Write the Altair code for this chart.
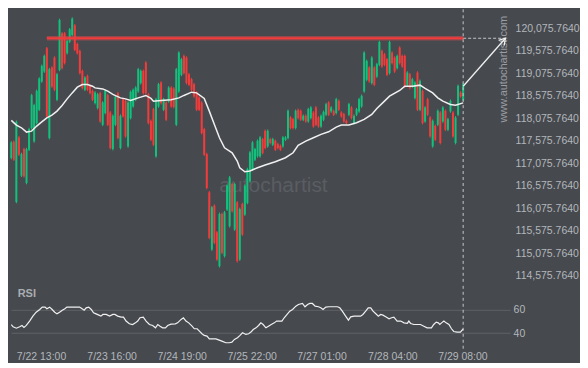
import altair as alt
import pandas as pd

# ---------------- data (hourly BTC candles) ----------------
opens = [
    117192, 117554, 116214, 117650, 116799, 117391, 116636, 117377, 117858, 117562,
    117969, 118266, 118895, 119117, 119635, 117636, 119206, 119428, 118488, 119154,
    119969, 119969, 119525, 119784, 119932, 120146, 119732, 119576, 119132, 118710,
    119020, 118798, 118687, 118414, 118303, 118635, 117932, 118192, 118591, 118206,
    117392, 117932, 118635, 117414, 118502, 118465, 117451, 118080, 118340, 118488,
    118673, 118858, 119132, 119317, 118613, 118020, 118280, 117229, 118340, 118872,
    118266, 118428, 118451, 118761, 118739, 117932, 118673, 119043, 119465, 119428,
    119057, 118946, 118835, 118650, 118539, 118428, 117835, 117280, 116428, 115155,
    116132, 115539, 114784, 115947, 115007, 116044, 115673, 116613, 115599, 116206,
    114933, 116169, 115933, 116192, 116673, 116932, 117155, 117229, 117229, 117613,
    117798, 117451, 117613, 117488, 117576, 117502, 117465, 117451, 117599, 117636,
    118095, 118058, 117858, 118265, 118243, 118043, 118132, 118006, 118080, 118206,
    118317, 118095, 117895, 118043, 118155, 118428, 118229, 118243, 118192, 118465,
    118206, 118169, 118020, 118155, 118317, 117969, 118155, 118229, 118340, 118673,
    118932, 119206, 118858, 119206, 119006, 119266, 119576, 119502, 119391, 119080,
    119539, 119428, 119192, 119650, 119465, 119465, 118821, 119057, 118784, 118525,
    119094, 118266, 118687, 118006, 118502, 118095, 117451, 117909, 117932, 118206,
    118006, 118243, 117821, 118229, 118206, 117525, 118155, 118650, 118488,
]
highs = [
    117569, 117584, 118028, 117680, 117310, 117421, 117421, 117865, 118621, 118399,
    118717, 118991, 119273, 119495, 119665, 119199, 119236, 119458, 119087, 120295,
    119999, 119999, 119828, 120087, 120324, 120176, 119762, 119606, 119162, 119013,
    119050, 118828, 118717, 118680, 118643, 118665, 118458, 118717, 118621, 118236,
    118162, 118591, 118665, 118162, 118532, 118495, 118458, 118695, 118739, 118791,
    119199, 119162, 119162, 119347, 118643, 118050, 118310, 118532, 118865, 118902,
    118532, 118458, 118791, 118791, 118769, 119199, 119569, 119421, 119495, 119458,
    119087, 118976, 118865, 118680, 118569, 118458, 117865, 117310, 116458, 116125,
    116162, 115569, 115977, 115977, 116014, 116606, 116791, 116643, 116643, 116236,
    116088, 116199, 116606, 116976, 117347, 117569, 117421, 117606, 117680, 117643,
    117828, 117828, 117643, 117643, 117606, 117532, 117495, 117680, 117680, 118273,
    118125, 118088, 118273, 118295, 118273, 118162, 118162, 118310, 118347, 118236,
    118347, 118125, 118162, 118250, 118421, 118458, 118347, 118273, 118532, 118495,
    118236, 118199, 118050, 118421, 118347, 118162, 118310, 118532, 118606, 119569,
    119384, 119236, 119458, 119236, 119310, 119806, 119606, 119532, 119421, 119806,
    119569, 119458, 119495, 119680, 119495, 119495, 119124, 119087, 118976, 118902,
    119124, 118939, 118717, 118347, 118532, 118125, 118050, 117939, 118273, 118236,
    118347, 118273, 118088, 118495, 118236, 118125, 118828, 118680, 118865,
]
lows = [
    117162, 117125, 116184, 117236, 116769, 116754, 116606, 117347, 117828, 117532,
    117939, 118236, 118865, 119087, 118088, 117606, 118754, 118680, 118458, 119124,
    119162, 119273, 119495, 119754, 119902, 119569, 119495, 119050, 118717, 118680,
    118680, 118606, 118458, 118384, 118273, 117976, 117902, 118162, 117902, 117384,
    117362, 117902, 117606, 117384, 118088, 117643, 117421, 118050, 118310, 118458,
    118643, 118828, 118606, 118606, 117939, 117569, 117458, 117199, 118310, 118384,
    118236, 118013, 118421, 118310, 118295, 117902, 118643, 119013, 119050, 118828,
    118791, 118680, 118532, 118236, 118236, 117717, 117236, 116495, 115384, 115125,
    115273, 114903, 114754, 115051, 114977, 116014, 115643, 115977, 115569, 114865,
    114903, 115458, 115903, 116162, 116643, 116902, 117125, 117199, 117199, 117273,
    117384, 117421, 117495, 117458, 117347, 117384, 117347, 117421, 117569, 117606,
    117828, 117828, 117828, 118050, 118013, 118013, 117976, 117976, 118050, 117865,
    117902, 117865, 117865, 118013, 118125, 118125, 118199, 118125, 118162, 118236,
    118088, 117976, 117939, 118125, 118050, 117939, 118125, 118199, 118310, 118643,
    118902, 118865, 118828, 118791, 118976, 119236, 119199, 119236, 119013, 119050,
    119273, 119087, 119162, 119273, 119199, 118754, 118791, 118717, 118754, 118495,
    118236, 118236, 117939, 117976, 118125, 117643, 117421, 117569, 117902, 117495,
    117976, 117791, 117791, 118199, 117643, 117495, 118125, 118532, 118458,
]
closes = [
    117539, 117155, 117998, 117266, 117280, 116784, 117391, 117835, 118591, 118369,
    118687, 118961, 119243, 119465, 118118, 119169, 118784, 118710, 119057, 120265,
    119192, 119303, 119798, 120057, 120294, 119599, 119525, 119080, 118747, 118983,
    118710, 118636, 118488, 118650, 118613, 118006, 118428, 118687, 117932, 117414,
    118132, 118561, 117636, 118132, 118118, 117673, 118428, 118665, 118709, 118761,
    119169, 119132, 118636, 118636, 117969, 117599, 117488, 118502, 118835, 118414,
    118502, 118043, 118761, 118340, 118325, 119169, 119539, 119391, 119080, 118858,
    118821, 118710, 118562, 118266, 118266, 117747, 117266, 116525, 115414, 116095,
    115303, 114933, 115947, 115081, 115984, 116576, 116761, 116007, 116613, 114895,
    116058, 115488, 116576, 116946, 117317, 117539, 117391, 117576, 117650, 117303,
    117414, 117798, 117525, 117613, 117377, 117414, 117377, 117650, 117650, 118243,
    117858, 117858, 118243, 118080, 118043, 118132, 118006, 118280, 118317, 117895,
    117932, 117895, 118132, 118220, 118391, 118155, 118317, 118155, 118502, 118266,
    118118, 118006, 117969, 118391, 118080, 118132, 118280, 118502, 118576, 119539,
    119354, 118895, 119428, 118821, 119280, 119776, 119229, 119266, 119043, 119776,
    119303, 119117, 119465, 119303, 119229, 118784, 119094, 118747, 118946, 118872,
    118266, 118909, 117969, 118317, 118155, 117673, 118020, 117599, 118243, 117525,
    118317, 117821, 118058, 118465, 117673, 118095, 118798, 118562, 118835,
]

# moving average (white line), read at candle positions
ma_idx = [0, 2, 4, 6, 8, 10, 12, 14, 16, 18, 20, 22, 24, 26, 28, 30, 32, 33, 36, 38,
          40, 43, 45, 47, 50, 53, 55, 56, 59, 63, 66, 68, 71, 73, 76, 78, 80, 82, 84, 87,
          89, 90, 92, 94, 97, 100, 104, 108, 111, 113, 116, 119, 122, 125, 128, 130, 133, 136, 139, 142,
          144, 147, 149, 153, 155, 158, 161, 163, 166, 168, 170, 173, 175, 178]
ma_val = [118029, 117925, 117865, 117769, 117791, 117903, 117998, 118087, 118147, 118236,
          118362, 118509, 118642, 118769, 118829, 118829, 118791, 118753, 118731, 118680,
          118607, 118531, 118509, 118474, 118531, 118585, 118518, 118458, 118474, 118487,
          118531, 118585, 118658, 118642, 118518, 118236, 117940, 117642, 117420, 117309,
          117125, 116976, 116887, 116903, 116976, 117036, 117109, 117198, 117309, 117474,
          117569, 117642, 117718, 117776, 117880, 117925, 117925, 117976, 118051, 118162,
          118296, 118458, 118569, 118696, 118791, 118791, 118814, 118740, 118642, 118531,
          118458, 118385, 118369, 118420]

# RSI
rsi_idx = [0, 0.7, 2.0, 3.3, 4.2, 5.0, 5.9, 7.2, 8.5, 9.8,
           11.2, 12.2, 13.3, 14.0, 15.1, 16.1, 17.1, 18.0, 19.0, 20.1,
           21.1, 21.9, 22.9, 24.9, 26.9, 27.9, 28.7, 29.5, 30.5, 31.5,
           32.4, 33.4, 34.5, 35.3, 36.1, 37.4, 38.7, 40.0, 40.8, 41.9,
           43.3, 44.2, 45.2, 46.5, 47.8, 48.9, 49.8, 50.7, 52.0, 53.1,
           54.4, 55.7, 56.8, 57.7, 58.6, 59.6, 60.7, 61.6, 62.9, 64.6,
           65.5, 66.9, 67.8, 68.8, 69.9, 71.2, 72.1, 73.2, 74.1, 75.1,
           76.0, 77.1, 78.0, 79.3, 80.6, 81.9, 83.2, 84.5, 85.9, 86.9,
           87.9, 89.1, 90.1, 91.1, 92.4, 93.5, 94.4, 95.3, 96.4, 97.4,
           98.3, 99.2, 100.3, 101.3, 102.4, 103.6, 104.5, 105.5, 106.6, 107.5,
           108.8, 109.7, 110.8, 112.1, 113.1, 114.7, 115.7, 116.7, 117.6, 118.6,
           119.7, 121.0, 121.9, 122.8, 123.9, 125.2, 127.2, 128.5, 129.4, 130.4,
           131.7, 132.8, 133.7, 135.0, 136.3, 137.6, 138.5, 139.6, 140.6, 141.6,
           142.5, 143.5, 144.6, 145.5, 146.4, 147.5, 148.8, 149.8, 150.7, 152.0,
           153.4, 154.7, 156.0, 156.6, 157.3, 158.6, 159.9, 161.2, 162.5, 163.8,
           165.5, 166.4, 167.4, 168.2, 168.8, 169.5, 170.4, 171.3, 172.4, 173.4,
           174.3, 175.6, 176.9, 178.0]
rsi_val = [47.3, 45.4, 44.2, 45.4, 46.5, 44.8, 46.5, 50.2, 54.4, 57.7,
           60.0, 62.0, 62.0, 60.6, 62.0, 60.0, 57.7, 56.3, 57.7, 59.4,
           60.6, 62.0, 62.0, 62.0, 62.0, 60.6, 59.4, 61.4, 62.0, 60.0,
           57.2, 56.3, 55.2, 54.4, 55.8, 55.8, 54.4, 55.8, 55.8, 54.4,
           53.5, 53.5, 50.2, 47.9, 47.3, 48.7, 50.2, 53.0, 53.5, 50.2,
           47.3, 46.5, 44.5, 47.3, 45.9, 44.5, 44.5, 46.5, 47.6, 47.9,
           48.7, 51.6, 53.0, 50.2, 48.7, 45.9, 43.7, 43.7, 41.7, 39.5,
           38.1, 37.5, 35.2, 35.2, 35.2, 34.1, 33.0, 31.9, 31.9, 32.4,
           34.7, 36.1, 38.1, 40.3, 38.9, 39.5, 40.9, 43.1, 44.5, 46.5,
           48.7, 47.3, 44.5, 45.9, 47.3, 48.7, 50.2, 50.2, 50.2, 53.0,
           56.3, 58.6, 60.0, 62.8, 64.2, 65.1, 62.3, 64.2, 65.1, 65.1,
           62.8, 62.3, 61.4, 60.0, 62.0, 62.3, 62.3, 62.3, 61.4, 58.6,
           54.4, 51.0, 53.8, 54.4, 54.4, 54.4, 55.8, 58.6, 61.4, 61.4,
           58.6, 56.6, 54.4, 55.8, 55.2, 53.8, 52.1, 53.0, 53.5, 50.2,
           50.2, 48.7, 48.2, 50.2, 48.2, 47.3, 47.3, 47.3, 45.9, 44.5,
           44.5, 47.3, 49.3, 48.7, 47.3, 48.7, 50.2, 48.7, 47.3, 43.7,
           41.4, 40.9, 40.9, 43.5]

time_tick_idx = [11.7, 39.5, 67.1, 94.7, 122.2, 150.1, 177.7]
time_tick_labels = ["7/22 13:00", "7/23 16:00", "7/24 19:00", "7/25 22:00",
                    "7/27 01:00", "7/28 04:00", "7/29 08:00"]
price_ticks = [114575.764, 115075.764, 115575.764, 116075.764, 116575.764, 117075.764,
               117575.764, 118075.764, 118575.764, 119075.764, 119575.764, 120075.764]
rsi_ticks = [40, 60]

resistance_level = [119858]
resistance_start_idx = [14]
forecast_idx = [178, 194.65]
forecast_price = [118790, 119858]

# ---------------- styling ----------------
BG = "#46494e"
GREEN = "#12c27c"
RED = "#f23c3c"
LABEL = "#b3b7bc"
WHITE = "#f0f0f0"
DASH = "#c4c6c9"
FONT = "Liberation Sans"

candles = pd.DataFrame({"idx": list(range(len(opens))), "open": opens,
                        "high": highs, "low": lows, "close": closes})
ma = pd.DataFrame({"idx": ma_idx, "value": ma_val})
rsi = pd.DataFrame({"idx": rsi_idx, "value": rsi_val})

XS = alt.Scale(domain=[-0.12, 196.5], nice=False, zero=False)
PS = alt.Scale(domain=[114391.4, 120502.4], nice=False, zero=False)
RS = alt.Scale(domain=[26.0, 80.0], nice=False, zero=False)

price_axis = alt.Axis(orient="right", values=price_ticks, format=",.4f", domain=False,
                      ticks=False, grid=False, labelColor=LABEL, labelFont=FONT,
                      labelFontSize=10.5, labelPadding=5)

label_expr = "".join(f"abs(datum.value - {v}) < 0.5 ? '{t}' : "
                     for v, t in zip(time_tick_idx, time_tick_labels)) + "''"
time_axis = alt.Axis(values=time_tick_idx, labelExpr=label_expr, domain=False, ticks=False,
                     grid=False, labelColor=LABEL, labelFont=FONT, labelFontSize=10.5,
                     labelPadding=2)
rsi_axis = alt.Axis(orient="right", values=rsi_ticks, grid=True, gridColor="#5f6267",
                    gridWidth=1, domain=False, ticks=False, labelColor=LABEL,
                    labelFont=FONT, labelFontSize=10.5, labelPadding=3)


def X(field="idx"):
    return alt.X(f"{field}:Q", scale=XS, axis=None, title=None)


def P(field):
    return alt.Y(f"{field}:Q", scale=PS, axis=price_axis, title=None)


def TX(field="idx"):
    return alt.X(f"{field}:Q", scale=XS, axis=time_axis, title=None)


def R(field):
    return alt.Y(f"{field}:Q", scale=RS, axis=rsi_axis, title=None)


candle_color = alt.when("datum.close >= datum.open").then(alt.value(GREEN)).otherwise(alt.value(RED))

# ---------------- price panel ----------------
wm_df = pd.DataFrame({"idx": [103.3], "price": [116569], "label": ["autochartist"]})
wm = alt.Chart(wm_df).mark_text(font=FONT, fontSize=21, color="#5a5d62").encode(
    x=X(), y=P("price"), text="label:N")

url_df = pd.DataFrame({"idx": [193.9], "price": [119169], "label": ["www.autochartist.com"]})
url = alt.Chart(url_df).mark_text(font=FONT, fontSize=11, angle=270, color="#9a9da2").encode(
    x=X(), y=P("price"), text="label:N")

wicks = alt.Chart(candles).mark_rule(strokeWidth=1).encode(
    x=X(), y=P("low"), y2=alt.Y2("high"), color=candle_color)

bodies = alt.Chart(candles).mark_rule(strokeWidth=2).encode(
    x=X(), y=P("open"), y2=alt.Y2("close"), color=candle_color)

ma_line = alt.Chart(ma).mark_line(color=WHITE, strokeWidth=1.5).encode(x=X(), y=P("value"))

res_df = pd.DataFrame({"start": resistance_start_idx, "end": [forecast_idx[0]],
                       "level": resistance_level})
res_glow = alt.Chart(res_df).mark_rule(color="#d24a4f", strokeWidth=4.5, opacity=0.55).encode(
    x=X("start"), x2=alt.X2("end"), y=P("level"))
res_line = alt.Chart(res_df).mark_rule(color=RED, strokeWidth=2).encode(
    x=X("start"), x2=alt.X2("end"), y=P("level"))

proj_df = pd.DataFrame({"start": [forecast_idx[0]], "end": [forecast_idx[1]],
                        "level": resistance_level})
proj = alt.Chart(proj_df).mark_rule(color=DASH, strokeWidth=1, strokeDash=[3, 2]).encode(
    x=X("start"), x2=alt.X2("end"), y=P("level"))

now_df = pd.DataFrame({"idx": [forecast_idx[0]]})
vline = alt.Chart(now_df).mark_rule(color=DASH, strokeWidth=1, strokeDash=[3, 3]).encode(x=X())

arrow_df = pd.DataFrame({"idx": forecast_idx, "price": forecast_price})
arrow = alt.Chart(arrow_df).mark_line(color=WHITE, strokeWidth=1.3).encode(x=X(), y=P("price"))
head = alt.Chart(arrow_df.iloc[[1]]).mark_point(
    shape="M-1,-0.6L0,0L-1,0.6", filled=False, size=150, angle=311.3,
    color=WHITE, strokeWidth=1.3, opacity=1).encode(x=X(), y=P("price"))

price_panel = alt.layer(wm, url, wicks, bodies, ma_line, res_glow, res_line,
                        proj, vline, arrow, head).properties(width=500, height=275)

# ---------------- RSI panel ----------------
rsi_line = alt.Chart(rsi).mark_line(color=WHITE, strokeWidth=1.2).encode(
    x=TX(), y=R("value"))

rsi_lab_df = pd.DataFrame({"idx": [2.5], "value": [73.2], "label": ["RSI"]})
rsi_label = alt.Chart(rsi_lab_df).mark_text(font=FONT, fontSize=11, fontWeight="bold",
                                            color="#a9adb2", align="left").encode(
    x=TX(), y=R("value"), text="label:N")

rsi_vline = alt.Chart(now_df).mark_rule(color=DASH, strokeWidth=1, strokeDash=[3, 3]).encode(x=TX())

rsi_panel = alt.layer(rsi_line, rsi_label, rsi_vline).properties(width=500, height=64)

chart = alt.vconcat(price_panel, rsi_panel, spacing=0).properties(
    background=BG, padding=0).configure_view(strokeWidth=0)

chart.save("out.html", embed_options={"renderer": "svg", "actions": False})
